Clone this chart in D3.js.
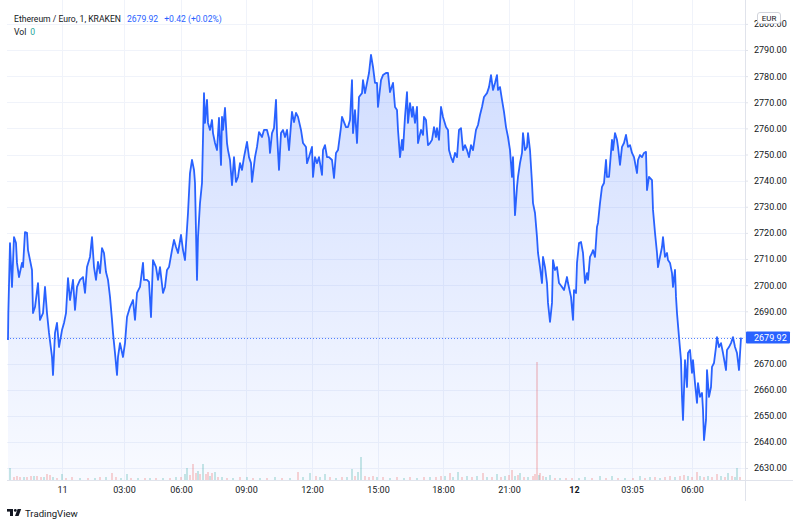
<!DOCTYPE html>
<html><head><meta charset="utf-8">
<script src="https://cdn.jsdelivr.net/npm/d3@7"></script>
<style>
html,body{margin:0;padding:0;background:#fff;}
svg{display:block;font-family:Roboto,"Open Sans",sans-serif;}
</style>
</head><body>
<svg id="c" width="800" height="527"></svg>
<script>
// ---- data (bar index, price) ----
const priceSeries = [
[0,2679.0],[1,2689.3],[6,2716.1],[12,2699.3],[18,2718.4],[24,2716.1],[27,2708.5],[33,2703.1],[42,2708.5],[45,2706.9],
[51,2720.3],[57,2720.0],[60,2713.4],[72,2705.8],[75,2689.3],[81,2691.6],[90,2700.8],[96,2686.7],[105,2689.3],[111,2699.3],
[117,2689.3],[123,2681.7],[132,2672.5],[135,2665.6],[141,2681.7],[147,2685.5],[153,2676.3],[162,2682.8],[168,2685.5],[174,2689.3],
[180,2702.7],[186,2694.3],[195,2702.0],[201,2690.5],[207,2699.3],[216,2702.0],[225,2703.1],[231,2697.0],[237,2706.9],[246,2710.8],
[252,2718.4],[258,2706.9],[264,2702.0],[270,2708.9],[276,2704.6],[282,2714.2],[288,2712.3],[294,2705.0],[300,2702.0],[306,2695.5],
[312,2686.7],[315,2681.7],[321,2674.0],[327,2665.6],[330,2672.5],[336,2677.8],[345,2672.5],[351,2677.8],[357,2687.8],[366,2691.6],
[375,2694.3],[381,2686.7],[387,2697.0],[396,2699.3],[405,2708.5],[408,2702.0],[417,2702.0],[423,2701.2],[429,2687.8],[435,2709.6],
[444,2706.9],[450,2702.0],[456,2706.9],[465,2697.0],[471,2699.3],[477,2705.8],[483,2706.9],[492,2713.4],[498,2717.3],[504,2714.6],
[510,2712.3],[519,2719.2],[525,2713.4],[531,2709.6],[540,2727.6],[546,2742.9],[552,2747.9],[558,2744.1],[561,2739.1],[567,2702.0],
[570,2718.4],[576,2731.4],[582,2739.1],[588,2773.5],[591,2762.1],[597,2770.9],[600,2762.1],[606,2759.4],[612,2763.2],[615,2758.2],
[621,2754.4],[627,2751.7],[633,2764.0],[639,2746.0],[642,2764.4],[645,2759.4],[651,2767.8],[657,2754.4],[660,2751.7],[666,2747.9],
[672,2738.3],[678,2749.0],[684,2739.5],[690,2741.4],[696,2746.7],[702,2744.1],[708,2749.0],[717,2754.8],[723,2749.0],[729,2746.7],
[732,2739.5],[741,2749.0],[747,2752.9],[753,2758.6],[762,2756.7],[768,2759.4],[777,2759.4],[783,2756.3],[786,2750.6],[792,2758.2],
[798,2760.1],[804,2770.9],[807,2758.2],[813,2744.1],[819,2758.2],[825,2759.4],[831,2756.7],[837,2759.4],[843,2751.7],[852,2766.3],
[858,2762.4],[864,2765.9],[870,2764.4],[879,2759.4],[885,2754.4],[894,2752.9],[897,2746.7],[903,2749.0],[912,2752.9],[915,2741.4],
[921,2749.0],[927,2746.7],[933,2749.0],[942,2742.2],[945,2751.7],[951,2753.6],[957,2749.0],[963,2749.0],[972,2747.9],[978,2741.0],
[984,2750.6],[990,2751.7],[999,2760.5],[1002,2764.4],[1008,2762.4],[1014,2760.5],[1020,2760.5],[1026,2763.2],[1032,2778.5],[1035,2758.2],
[1041,2767.0],[1047,2754.4],[1053,2772.0],[1062,2773.5],[1065,2778.5],[1071,2773.5],[1077,2777.4],[1083,2781.2],[1089,2788.1],[1095,2783.5],
[1101,2777.4],[1107,2777.4],[1110,2768.2],[1119,2778.5],[1125,2780.4],[1134,2781.2],[1140,2781.2],[1146,2773.9],[1155,2777.4],[1161,2768.2],
[1167,2767.0],[1170,2759.4],[1176,2749.0],[1182,2755.6],[1185,2751.7],[1191,2764.4],[1197,2773.9],[1200,2762.1],[1206,2769.7],[1212,2764.4],
[1215,2768.2],[1221,2762.1],[1227,2768.2],[1230,2754.4],[1239,2759.4],[1245,2757.5],[1248,2764.4],[1254,2763.2],[1260,2753.6],[1266,2754.4],
[1272,2755.6],[1278,2760.5],[1284,2756.7],[1287,2760.1],[1293,2755.6],[1299,2768.2],[1305,2764.4],[1314,2760.5],[1320,2759.4],[1323,2751.7],
[1329,2749.0],[1335,2747.1],[1341,2750.6],[1347,2749.0],[1353,2759.4],[1359,2760.1],[1365,2751.7],[1371,2753.6],[1377,2751.7],[1383,2749.0],
[1389,2753.6],[1395,2751.7],[1404,2759.4],[1410,2761.3],[1416,2765.1],[1422,2768.2],[1428,2772.0],[1437,2773.5],[1443,2775.8],[1449,2780.4],
[1455,2774.7],[1461,2777.4],[1467,2780.4],[1470,2774.7],[1476,2775.8],[1482,2770.9],[1488,2766.3],[1494,2760.5],[1500,2756.7],[1506,2751.7],
[1512,2741.4],[1515,2749.0],[1521,2726.8],[1527,2737.6],[1530,2741.4],[1536,2746.7],[1542,2750.6],[1545,2758.2],[1551,2751.7],[1557,2752.9],
[1560,2758.2],[1566,2751.7],[1572,2739.1],[1575,2731.4],[1581,2727.6],[1587,2718.4],[1590,2712.3],[1596,2706.9],[1602,2700.8],[1605,2710.8],
[1611,2706.9],[1617,2700.8],[1620,2693.2],[1626,2685.9],[1632,2693.2],[1635,2709.6],[1641,2705.8],[1647,2706.9],[1653,2700.8],[1662,2699.3],
[1668,2698.1],[1677,2703.1],[1680,2700.8],[1689,2695.5],[1695,2686.7],[1698,2698.1],[1704,2697.0],[1707,2708.5],[1713,2716.1],[1719,2716.5],
[1725,2712.3],[1731,2700.8],[1737,2704.6],[1740,2702.0],[1746,2710.8],[1752,2712.3],[1755,2713.4],[1761,2710.8],[1767,2722.3],[1770,2723.8],
[1776,2731.4],[1782,2737.6],[1788,2739.1],[1794,2747.9],[1797,2741.4],[1803,2741.4],[1812,2755.6],[1815,2751.7],[1821,2758.2],[1827,2755.6],
[1830,2752.9],[1836,2746.0],[1842,2752.9],[1848,2754.4],[1854,2757.5],[1860,2752.9],[1866,2753.6],[1872,2750.6],[1878,2749.0],[1887,2742.9],
[1890,2747.9],[1896,2749.8],[1902,2749.0],[1908,2750.6],[1914,2751.0],[1917,2736.4],[1923,2741.4],[1932,2740.2],[1935,2728.8],[1941,2720.0],
[1947,2712.3],[1950,2706.9],[1956,2710.8],[1962,2714.6],[1965,2718.4],[1971,2710.8],[1977,2712.3],[1980,2709.6],[1986,2708.5],[1992,2704.6],
[1995,2699.3],[2001,2705.8],[2004,2695.5],[2007,2689.3],[2013,2680.1],[2019,2671.3],[2022,2657.2],[2025,2648.4],[2031,2671.3],[2037,2661.0],
[2040,2674.0],[2046,2675.2],[2052,2666.4],[2055,2671.3],[2061,2662.5],[2067,2654.9],[2070,2662.5],[2076,2657.2],[2082,2658.7],[2085,2652.2],
[2088,2640.7],[2094,2648.4],[2097,2667.5],[2103,2657.2],[2109,2661.0],[2112,2668.7],[2118,2670.2],[2124,2676.3],[2127,2680.1],[2133,2676.3],
[2139,2677.8],[2145,2674.0],[2154,2667.5],[2157,2675.2],[2163,2676.3],[2169,2677.8],[2175,2680.1],[2181,2676.3],[2187,2674.0],[2193,2667.5],
[2199,2679.92]
];

// volume: [bar index, volume, direction u=up d=down]
const volumeSeries = [
[6,12,'u'],[18,3,'d'],[27,4,'d'],[36,3,'d'],[48,3,'u'],[57,3,'d'],[69,4,'d'],[78,4,'u'],[87,4,'d'],[99,3,'d'],
[108,3,'u'],[117,6,'d'],[126,5,'d'],[135,3,'u'],[147,2,'d'],[162,6,'u'],[174,2,'d'],[192,3,'d'],[216,2,'u'],[240,2,'d'],
[261,2,'u'],[276,3,'d'],[294,3,'u'],[312,7,'d'],[324,3,'d'],[339,2,'u'],[357,6,'u'],[369,2,'d'],[390,2,'u'],[411,2,'d'],
[426,2,'u'],[444,2,'d'],[465,2,'u'],[486,2,'d'],[504,3,'u'],[519,3,'d'],[531,6,'u'],[537,12,'u'],[546,5,'d'],[555,16,'d'],
[564,7,'d'],[570,9,'u'],[576,6,'d'],[585,16,'u'],[594,6,'d'],[600,8,'d'],[606,4,'u'],[612,7,'d'],[621,8,'u'],[630,3,'d'],
[642,3,'u'],[657,2,'d'],[675,2,'u'],[696,3,'d'],[717,3,'u'],[735,2,'d'],[756,2,'u'],[777,2,'d'],[801,3,'u'],[822,2,'d'],
[846,2,'u'],[870,8,'d'],[885,3,'u'],[906,7,'u'],[924,4,'d'],[936,3,'u'],[951,6,'u'],[966,3,'d'],[984,2,'u'],[1002,3,'d'],
[1017,3,'u'],[1032,11,'u'],[1041,4,'d'],[1050,8,'u'],[1059,23,'u'],[1071,4,'d'],[1083,3,'d'],[1095,4,'d'],[1107,3,'u'],[1125,3,'d'],
[1146,2,'u'],[1167,3,'d'],[1188,2,'u'],[1206,3,'d'],[1227,2,'u'],[1248,3,'d'],[1266,3,'u'],[1284,3,'d'],[1299,4,'d'],[1311,4,'u'],
[1326,7,'d'],[1335,3,'u'],[1350,8,'u'],[1362,3,'d'],[1377,4,'u'],[1392,3,'d'],[1407,4,'u'],[1425,7,'d'],[1437,3,'u'],[1452,3,'d'],
[1467,6,'u'],[1479,3,'d'],[1491,4,'u'],[1503,5,'d'],[1512,10,'d'],[1521,4,'u'],[1530,5,'d'],[1536,7,'u'],[1548,3,'d'],[1560,3,'u'],
[1575,4,'d'],[1581,6,'d'],[1587,118,'d'],[1593,5,'u'],[1596,7,'d'],[1605,4,'d'],[1614,3,'u'],[1626,5,'u'],[1641,2,'d'],[1656,2,'u'],
[1674,2,'d'],[1692,2,'d'],[1713,2,'u'],[1731,3,'u'],[1752,2,'d'],[1776,4,'u'],[1794,2,'d'],[1812,4,'u'],[1830,2,'d'],[1851,2,'u'],
[1875,2,'d'],[1896,4,'u'],[1911,2,'d'],[1926,3,'u'],[1941,3,'d'],[1956,2,'u'],[1971,3,'d'],[1986,4,'d'],[2001,3,'u'],[2016,4,'d'],
[2028,5,'d'],[2040,4,'u'],[2052,3,'d'],[2067,8,'d'],[2076,4,'u'],[2088,3,'d'],[2100,4,'u'],[2112,3,'d'],[2127,6,'d'],[2139,4,'u'],
[2151,3,'d'],[2160,7,'u'],[2172,4,'d'],[2181,3,'u'],[2187,12,'u'],[2196,3,'d']
];

const priceTickValues = [2630,2640,2650,2660,2670,2680,2690,2700,2710,2720,2730,2740,2750,2760,2770,2780,2790,2800];
const timeTickBars   = [162,348,519,714,912,1110,1305,1503,1698,1872,2052];
const timeTickLabels = ["11","03:00","06:00","09:00","12:00","15:00","18:00","21:00","12","03:05","06:00"];
const boldTimeLabels = ["12"];
const titleText = "Ethereum / Euro, 1, KRAKEN";
const lastPrice = 2679.92;
const changeText = "+0.42 (+0.02%)";
const volText = "0";
const currency = "EUR";

// ---- layout ----
const W = 800, H = 527;
const paneLeft = 7, paneRight = 745, paneTop = 0, paneBottom = 480, axisBottom = 501;
const lineColor = "#2962ff";
const textColor = "#131722";
const gridColor = "#f0f3fa";

const svg = d3.select("#c");
const x = d3.scaleLinear().domain([0, 2211]).range([8, 745]);
const y = d3.scaleLinear().domain([2630, 2790]).range([468, 50]);
const yVol = d3.scaleLinear().domain([0, 120]).range([paneBottom, paneBottom - 120]);

const defs = svg.append("defs");
defs.append("clipPath").attr("id","pane").append("rect")
  .attr("x",paneLeft).attr("y",paneTop).attr("width",paneRight-paneLeft).attr("height",paneBottom-paneTop);
const grad = defs.append("linearGradient").attr("id","areaGrad")
  .attr("gradientUnits","userSpaceOnUse").attr("x1",0).attr("x2",0)
  .attr("y1", y(d3.max(priceSeries, d=>d[1]))).attr("y2", paneBottom);
grad.append("stop").attr("offset","0%").attr("stop-color",lineColor).attr("stop-opacity",0.22);
grad.append("stop").attr("offset","100%").attr("stop-color",lineColor).attr("stop-opacity",0.03);

// grid
const grid = svg.append("g");
grid.selectAll("line.h").data(priceTickValues).join("line")
  .attr("x1",paneLeft).attr("x2",paneRight)
  .attr("y1",d=>Math.round(y(d))+0.5).attr("y2",d=>Math.round(y(d))+0.5)
  .attr("stroke",gridColor).attr("stroke-width",1);
grid.selectAll("line.v").data(timeTickBars).join("line")
  .attr("x1",d=>Math.round(x(d))+0.5).attr("x2",d=>Math.round(x(d))+0.5)
  .attr("y1",paneTop).attr("y2",paneBottom)
  .attr("stroke",gridColor).attr("stroke-width",1);

const pane = svg.append("g").attr("clip-path","url(#pane)");

// volume
pane.append("g").selectAll("rect").data(volumeSeries).join("rect")
  .attr("x", d=>x(d[0])-0.5).attr("width",1)
  .attr("y", d=>yVol(d[1])).attr("height", d=>paneBottom - yVol(d[1]))
  .attr("fill", d=> d[2]==='u' ? "rgba(38,166,154,0.5)" : "rgba(239,83,80,0.5)");

// area
const area = d3.area().x(d=>x(d[0])).y0(paneBottom).y1(d=>y(d[1]));
pane.append("path").datum(priceSeries).attr("d",area).attr("fill","url(#areaGrad)");

// last price dotted line
pane.append("line").attr("x1",paneLeft).attr("x2",paneRight)
  .attr("y1",Math.round(y(lastPrice))+0.5).attr("y2",Math.round(y(lastPrice))+0.5)
  .attr("stroke",lineColor).attr("stroke-width",1).attr("stroke-dasharray","1,2").attr("opacity",0.8);

// line
const line = d3.line().x(d=>x(d[0])).y(d=>y(d[1]));
pane.append("path").datum(priceSeries).attr("d",line)
  .attr("fill","none").attr("stroke",lineColor).attr("stroke-width",1.8).attr("stroke-linejoin","round");

// separators
svg.append("line").attr("x1",paneRight+0.5).attr("x2",paneRight+0.5).attr("y1",0).attr("y2",axisBottom)
  .attr("stroke","#e0e3eb");
svg.append("line").attr("x1",paneLeft).attr("x2",793).attr("y1",paneBottom+0.5).attr("y2",paneBottom+0.5)
  .attr("stroke","#e0e3eb");

// price axis
const yAxis = d3.axisRight(y).tickValues(priceTickValues).tickFormat(d3.format(".2f")).tickSize(3).tickPadding(6);
const ya = svg.append("g").attr("transform",`translate(${paneRight},0)`).call(yAxis);
ya.select(".domain").remove();
ya.selectAll(".tick line").attr("stroke","#e0e3eb");
ya.selectAll("text").attr("fill",textColor).attr("font-size",9).attr("font-family","Roboto,sans-serif");

// time axis
const xAxis = d3.axisBottom(x).tickValues(timeTickBars).tickFormat((d,i)=>timeTickLabels[i]).tickSize(0).tickPadding(7);
const xa = svg.append("g").attr("transform",`translate(0,${paneBottom})`).call(xAxis);
xa.select(".domain").remove();
xa.selectAll("text").attr("fill",textColor).attr("font-size",9).attr("font-family","Roboto,sans-serif")
  .attr("font-weight",d=> boldTimeLabels.includes(timeTickLabels[timeTickBars.indexOf(d)]) ? 700 : 400);

// last price label
const ly = y(lastPrice);
svg.append("rect").attr("x",paneRight+1).attr("y",ly-6).attr("width",44).attr("height",12).attr("fill",lineColor).attr("rx",1);
svg.append("text").attr("x",paneRight+9).attr("y",ly+3.2).attr("fill","#fff").attr("font-size",9)
  .text(d3.format(".2f")(lastPrice));

// currency badge
svg.append("rect").attr("x",757.5).attr("y",12.5).attr("width",23).attr("height",11).attr("rx",2.5)
  .attr("fill","#fff").attr("stroke","#d1d4dc");
svg.append("text").attr("x",769).attr("y",21).attr("text-anchor","middle").attr("font-size",8).attr("fill",textColor).text(currency);

// header
const hdr = svg.append("text").attr("x",14).attr("y",22).attr("font-size",8.6);
hdr.append("tspan").attr("fill",textColor).text(titleText);
hdr.append("tspan").attr("fill",lineColor).attr("dx",6).text(d3.format(".2f")(lastPrice));
hdr.append("tspan").attr("fill",lineColor).attr("dx",6).text(changeText);
const vt = svg.append("text").attr("x",14).attr("y",35).attr("font-size",8.6);
vt.append("tspan").attr("fill",textColor).text("Vol");
vt.append("tspan").attr("fill","#26a69a").attr("dx",4).text(volText);

// TradingView logo
const logo = svg.append("g").attr("fill",textColor);
logo.append("rect").attr("x",7).attr("y",509).attr("width",6).attr("height",2.6);
logo.append("rect").attr("x",10).attr("y",509).attr("width",3).attr("height",7);
logo.append("circle").attr("cx",15.3).attr("cy",510.4).attr("r",1.4);
logo.append("path").attr("d","M17.6,509 L21.2,509 L18.6,516 L15,516 Z");
svg.append("text").attr("x",25).attr("y",517).attr("font-size",9.6).attr("fill",textColor).text("TradingView");
</script>
</body></html>
